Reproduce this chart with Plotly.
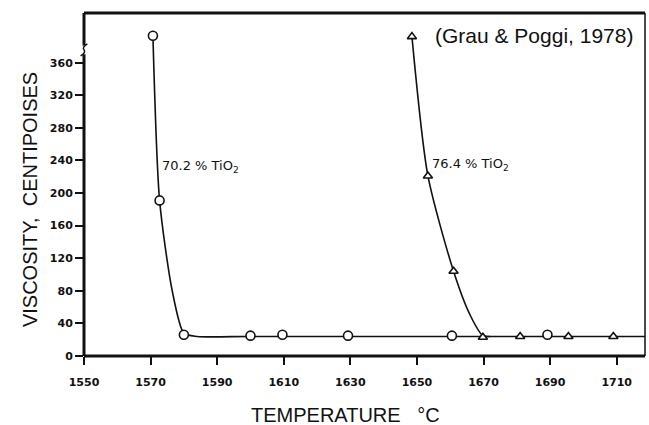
import plotly.graph_objects as go

# 70.2 % TiO2 (circles)
t_702 = [1570.7, 1572.7, 1580, 1600, 1609.6, 1629.3, 1660.5, 1689.2]
v_702 = [393, 191, 26, 25, 26, 25, 25, 26]
# 76.4 % TiO2 (triangles)
t_764 = [1648.5, 1653.3, 1661, 1669.8, 1681, 1695.5, 1709]
v_764 = [392, 221, 104, 23, 24, 24, 24]
# smooth curves drawn through the data
curve_702_t = [1570.7, 1572.7, 1576.5, 1580, 1584, 1600, 1650, 1718.5]
curve_702_v = [393, 191, 80, 28, 24, 24, 24, 24]
curve_764_t = [1648.5, 1653.3, 1661, 1666, 1669.8, 1672]
curve_764_v = [392, 221, 104, 50, 25, 24]

x_ticks = [1550, 1570, 1590, 1610, 1630, 1650, 1670, 1690, 1710]
y_ticks = [0, 40, 80, 120, 160, 200, 240, 280, 320, 360]

ink = "#111111"
fig = go.Figure()
fig.add_trace(go.Scatter(x=curve_702_t, y=curve_702_v, mode="lines",
                         line=dict(color=ink, width=1.6, shape="spline", smoothing=0.7),
                         hoverinfo="skip", showlegend=False))
fig.add_trace(go.Scatter(x=curve_764_t, y=curve_764_v, mode="lines",
                         line=dict(color=ink, width=1.6, shape="spline", smoothing=0.7),
                         hoverinfo="skip", showlegend=False))
fig.add_trace(go.Scatter(x=t_702, y=v_702, mode="markers",
                         marker=dict(symbol="circle", size=9, color="white",
                                     line=dict(color=ink, width=1.6)),
                         showlegend=False))
fig.add_trace(go.Scatter(x=t_764, y=v_764, mode="markers",
                         marker=dict(symbol="triangle-up", size=8, color="white",
                                     line=dict(color=ink, width=1.6)),
                         showlegend=False))

fig.update_xaxes(range=[1550, 1718.5], tickvals=x_ticks, ticks="outside", ticklen=8,
                 tickwidth=2, tickcolor=ink, showgrid=False, zeroline=False,
                 showline=False, ticklabelstandoff=8,
                 tickfont=dict(family="DejaVu Sans", size=11, color=ink, weight="bold"))
fig.update_yaxes(range=[0, 421], tickvals=y_ticks, ticks="outside", ticklen=8,
                 tickwidth=2, tickcolor=ink, showgrid=False, zeroline=False,
                 showline=False,
                 tickfont=dict(family="DejaVu Sans", size=11, color=ink, weight="bold"))

shapes = [
    dict(type="line", xref="paper", yref="paper", x0=0, x1=0, y0=0, y1=0.88, line=dict(color=ink, width=3)),
    dict(type="line", xref="paper", yref="paper", x0=0, x1=0, y0=0.905, y1=1, line=dict(color=ink, width=3)),
    dict(type="line", xref="paper", yref="paper", x0=0, x1=1, y0=0, y1=0, line=dict(color=ink, width=3)),
    dict(type="line", xref="paper", yref="paper", x0=0, x1=1, y0=1, y1=1, line=dict(color=ink, width=3)),
    dict(type="line", xref="paper", yref="paper", x0=1, x1=1, y0=0, y1=1, line=dict(color=ink, width=1.5)),
    dict(type="path", xref="paper", yref="paper",
         path="M -0.006,0.875 Q 0.004,0.885 0,0.893 Q -0.004,0.9 0.006,0.91",
         line=dict(color=ink, width=1.5)),
]

fig.update_layout(
    width=649, height=425,
    margin=dict(l=84, r=4, t=13, b=69),
    paper_bgcolor="white", plot_bgcolor="white",
    shapes=shapes,
    annotations=[
        dict(x=1572.8, y=232, xref="x", yref="y", text="70.2 % TiO<sub>2</sub>", showarrow=False,
             xanchor="left", yanchor="middle", font=dict(family="DejaVu Sans", size=13, color=ink)),
        dict(x=1653.8, y=235, xref="x", yref="y", text="76.4 % TiO<sub>2</sub>", showarrow=False,
             xanchor="left", yanchor="middle", font=dict(family="DejaVu Sans", size=13, color=ink)),
        dict(x=0.983, y=0.935, xref="paper", yref="paper", text="(Grau & Poggi, 1978)", showarrow=False,
             xanchor="right", yanchor="middle", font=dict(family="Liberation Sans", size=21, color=ink)),
        dict(x=0.467, y=-0.172, xref="paper", yref="paper", text="TEMPERATURE   °C", showarrow=False,
             xanchor="center", yanchor="middle", font=dict(family="Liberation Sans", size=20, color=ink)),
        dict(x=-0.096, y=0.455, xref="paper", yref="paper", text="VISCOSITY,  CENTIPOISES", showarrow=False,
             textangle=-90, xanchor="center", yanchor="middle",
             font=dict(family="Liberation Sans", size=20, color=ink)),
    ],
)

fig.write_html("out.html")
